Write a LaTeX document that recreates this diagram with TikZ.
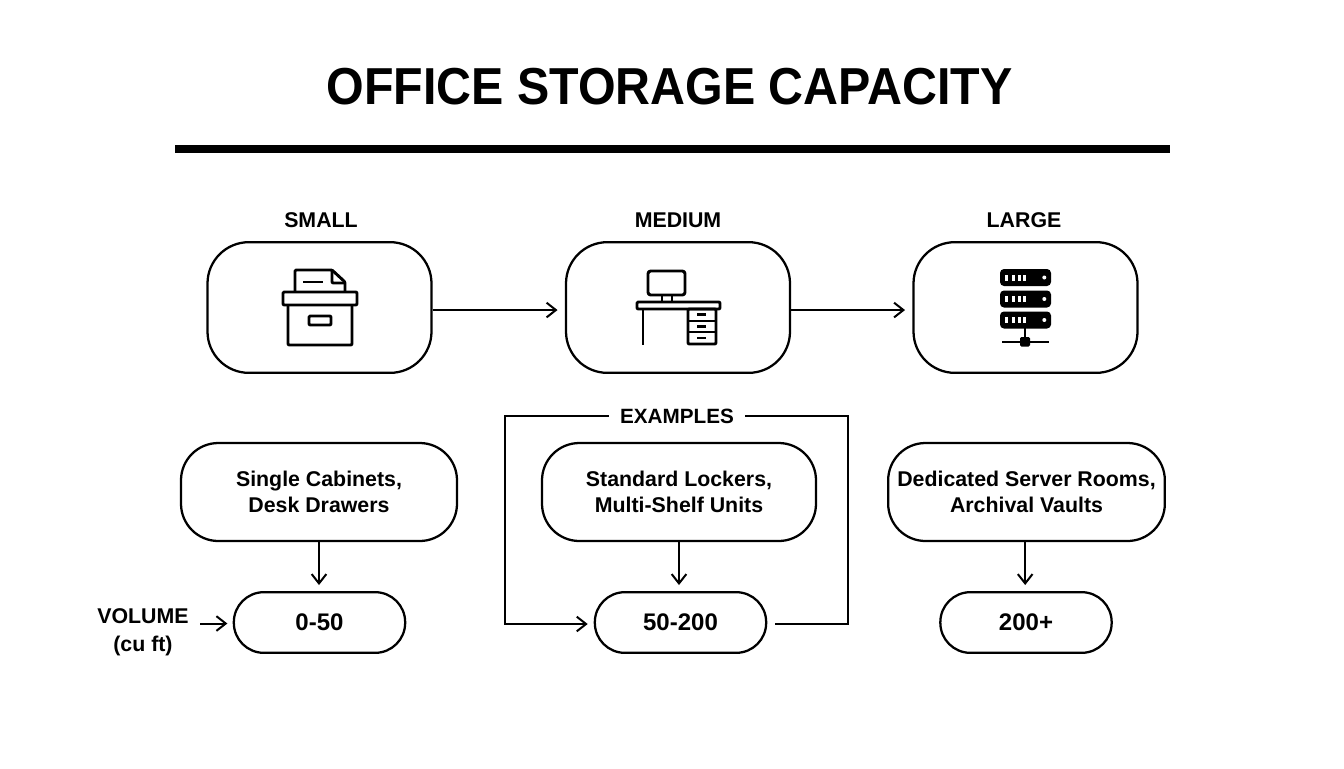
\documentclass[tikz,border=0pt]{standalone}
\usepackage{fontspec}
\setmainfont{Liberation Sans}
\newfontfamily\titlefont[FakeStretch=0.93]{Liberation Sans}
\usetikzlibrary{arrows.meta}
\tikzset{
  x=0.75pt,y=-0.75pt,
  ln/.style={line width=1.7pt,black},
  conn/.style={line width=1.5pt,black},
  arr/.style={conn,-{Straight Barb[length=7pt,width=11pt,line width=1.5pt]}},
  bigbox/.style={draw,ln,rounded corners=31pt,minimum width=168pt,minimum height=98pt,inner sep=0pt},
  midbox/.style={draw,ln,rounded corners=28pt,minimum height=73.5pt,align=center,inner sep=0pt,font=\fontsize{16}{20}\selectfont\bfseries},
  valbox/.style={draw,ln,rounded corners=22.5pt,minimum width=128.5pt,minimum height=45.5pt,inner sep=0pt,font=\fontsize{18}{20}\selectfont\bfseries},
  head/.style={font=\fontsize{16}{18}\selectfont\bfseries,inner sep=0pt},
  ic/.style={line width=2.2pt,black,line join=round,rounded corners=0.8pt},
}
\begin{document}
\begin{tikzpicture}
\useasboundingbox (0,0) rectangle (1344,768);
\fill[white] (0,0) rectangle (1344,768);
\node[inner sep=0pt,font=\fontsize{39}{44}\selectfont\bfseries\titlefont] (title) at (669.5,87) {OFFICE STORAGE CAPACITY};
\fill[black] (175,145) rectangle (1170,152.5);
\node[head] (hs) at (321,220) {SMALL};
\node[head] (hm) at (678,220) {MEDIUM};
\node[head] (hl) at (1024,220) {LARGE};
\node[bigbox] (s) at (319.5,307.5) {};
\node[bigbox] (m) at (678,307.5) {};
\node[bigbox] (l) at (1025.5,307.5) {};
\draw[arr] ([yshift=-1.9pt]s.east) -- ([xshift=-5.5pt,yshift=-1.9pt]m.west);
\draw[arr] ([yshift=-1.9pt]m.east) -- ([xshift=-5.5pt,yshift=-1.9pt]l.west);
% box icon
\draw[ic] (295,292) -- (295,270) -- (332,270) -- (345,282) -- (345,292);
\draw[ic] (332,270) -- (332,283) -- (345,283);
\draw[ic] (303,282) -- (323,282);
\draw[ic] (283,292) rectangle (357,305);
\draw[ic] (288,305) -- (288,345) -- (352,345) -- (352,305);
\draw[ic] (309,316) rectangle (331,325);
% desk icon
\draw[ic,rounded corners=2pt] (648,271) rectangle (685,295);
\draw[ic] (662,295) -- (662,302) (672,295) -- (672,302);
\draw[ic] (637,302) rectangle (720,309);
\draw[ic] (643,309) -- (643,345);
\draw[ic] (688,309) rectangle (716,344);
\draw[ic] (688,321) -- (716,321) (688,332) -- (716,332);
\draw[ic] (697,314.5) -- (706,314.5) (697,326.5) -- (706,326.5) (697,338) -- (706,338);
% server icon
\foreach \y in {269,290.5,311.5}{
  \fill[black,rounded corners=3pt] (1000,\y) rectangle (1051,\y+17);
  \foreach \x in {1005,1012,1018,1023}{\fill[white] (\x,\y+5.5) rectangle (\x+3,\y+11.5);}
  \fill[white] (1044.3,\y+8.5) circle (1.5pt);
}
\draw[line width=2.2pt] (1025,328) -- (1025,342);
\draw[line width=2.2pt] (1002,342) -- (1049,342);
\fill[black,rounded corners=1pt] (1020,337) rectangle (1030,346.5);
% second row
\node[midbox,minimum width=207pt] (a) at (319,492) {Single Cabinets,\\Desk Drawers};
\node[midbox,minimum width=205.5pt] (b) at (679,492) {Standard Lockers,\\Multi-Shelf Units};
\node[midbox,minimum width=207.5pt] (c) at (1026.5,492) {Dedicated Server Rooms,\\Archival Vaults};
\node[valbox] (x) at (319.5,622.5) {0-50};
\node[valbox] (y) at (680.5,622.5) {50-200};
\node[valbox] (z) at (1026,622.5) {200+};
\draw[arr] (a.south) -- ([yshift=4.5pt]a.south |- x.north);
\draw[arr] (b.south) -- ([yshift=4.5pt]b.south |- y.north);
\draw[arr] ([xshift=-1pt]c.south) -- ([xshift=-1pt,yshift=4.5pt]c.south |- z.north);
% volume
\node[inner sep=0pt,align=center,font=\fontsize{16}{21}\selectfont\bfseries] (v) at (143,632) {VOLUME\\(cu ft)};
\coordinate (vs) at (200,623.5);
\draw[arr] (vs) -- ([xshift=-4pt]x.west |- vs);
% examples
\node[font=\fontsize{15.5}{18}\selectfont\bfseries,inner sep=0pt,minimum width=102pt] (e) at (677,416) {EXAMPLES};
\coordinate (tl) at (505,416);
\coordinate (bl) at (505,624);
\coordinate (tr) at (848,416);
\coordinate (br) at (848,624);
\draw[arr] (e.west) -- (tl) -- (bl) -- ([xshift=-4.5pt]y.west |- bl);
\draw[conn] ([xshift=6pt]y.east |- br) -- (br) -- (tr) -- (e.east);
\end{tikzpicture}
\end{document}
